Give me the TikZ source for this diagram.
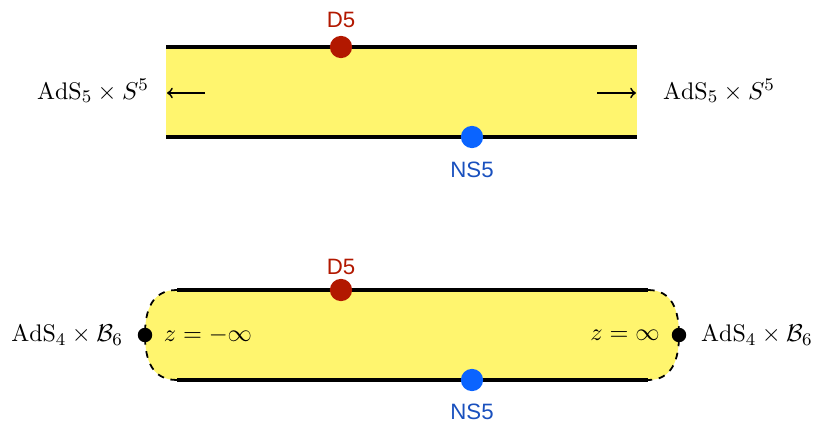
\documentclass[tikz,border=0pt]{standalone}
\usepackage{fontspec}
\usetikzlibrary{positioning}
\newfontfamily\labelfont{Liberation Sans}
\definecolor{stripyellow}{RGB}{255,245,110}
\definecolor{dred}{RGB}{178,24,0}
\definecolor{nsblue}{RGB}{10,100,255}
\definecolor{nstext}{RGB}{25,80,190}
\tikzset{
    brane/.style={circle, inner sep=0pt, minimum size=10pt},
    endpt/.style={circle, fill=black, inner sep=0pt, minimum size=6.5pt},
    edge/.style={line width=1.8pt},
    dlabel/.style={font=\labelfont, text=dred},
    nslabel/.style={font=\labelfont, text=nstext},
    space/.style={font=\fontsize{10.8}{13}\selectfont},
}
\begin{document}
\begin{tikzpicture}[x=0.45pt, y=-0.45pt]

    \useasboundingbox (0,0) rectangle (815,421);

    % upper strip
    \fill[stripyellow] (166,47) rectangle (637,137);
    \draw[edge] (166,47) -- (637,47);
    \draw[edge] (166,137) -- (637,137);
    \node [brane, fill=dred] (d5a) at (341,47) {};
    \node [brane, fill=nsblue] (ns5a) at (472,137) {};
    \node [dlabel] at (341,20) {D5};
    \node [nslabel] at (472,170) {NS5};
    \draw[->, thick] (205,93) -- (167,93);
    \draw[->, thick] (597,93) -- (636,93);
    \node [space] at (93,91) {$\mathrm{AdS}_5\times S^5$};
    \node [space] at (719,91) {$\mathrm{AdS}_5\times S^5$};

    % lower strip
    \fill[stripyellow] (177,290) -- (648,290)
        .. controls (672,290) and (679,310) .. (679,335)
        .. controls (679,360) and (672,380) .. (648,380)
        -- (177,380)
        .. controls (152,380) and (145,360) .. (145,335)
        .. controls (145,310) and (152,290) .. (177,290);
    \draw[edge] (177,290) -- (648,290);
    \draw[edge] (177,380) -- (648,380);
    \draw[thick, dashed] (648,290)
        .. controls (672,290) and (679,310) .. (679,335)
        .. controls (679,360) and (672,380) .. (648,380);
    \draw[thick, dashed] (177,380)
        .. controls (152,380) and (145,360) .. (145,335)
        .. controls (145,310) and (152,290) .. (177,290);
    \node [endpt] (west) at (145,335) {};
    \node [endpt] (east) at (679,335) {};
    \node [brane, fill=dred] (d5b) at (341,290) {};
    \node [brane, fill=nsblue] (ns5b) at (472,380) {};
    \node [dlabel] at (341,267) {D5};
    \node [nslabel] at (472,412) {NS5};
    \node [space] at (208,335) {$z=-\infty$};
    \node [space] at (625,335) {$z=\infty$};
    \node [space, left=3pt of west] {$\mathrm{AdS}_4\times \mathcal{B}_6$};
    \node [space, right=3pt of east] {$\mathrm{AdS}_4\times \mathcal{B}_6$};

\end{tikzpicture}
\end{document}
